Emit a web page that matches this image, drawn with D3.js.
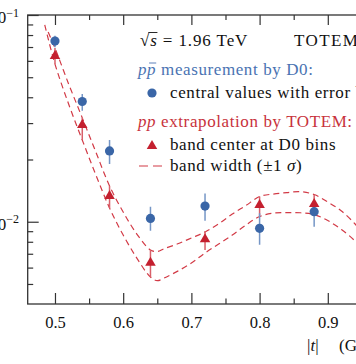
<!DOCTYPE html>
<html><head><meta charset="utf-8">
<script src="https://cdn.jsdelivr.net/npm/d3@7"></script>
<style>body{margin:0;background:#fff}svg{display:block}</style>
</head><body>
<svg id="c" width="356" height="364"></svg>
<script>
// ---- data ----
const binT = [0.50, 0.54, 0.58, 0.64, 0.72, 0.80, 0.88];
const d0Value = [0.0748, 0.03815, 0.0220, 0.01038, 0.01191, 0.00929, 0.01118];
const d0Hi    = [0.0794, 0.0415, 0.02484, 0.01182, 0.0137, 0.01098, 0.01273];
const d0Lo    = [0.0698, 0.0344, 0.01901, 0.00905, 0.01011, 0.00774, 0.00946];
const totemValue = [0.0633, 0.02936, 0.01331, 0.00633, 0.00822, 0.01205, 0.01218];
const totemHi    = [0.0692, 0.0318, 0.0149, 0.0073, 0.0090, 0.01324, 0.01354];
const totemLo    = [0.0579, 0.02485, 0.01165, 0.0054, 0.0073, 0.0106, 0.01083];
const bandUpperT = [0.49, 0.50, 0.52, 0.54, 0.56, 0.58, 0.60, 0.62, 0.64, 0.65, 0.66, 0.68, 0.70, 0.72, 0.74, 0.76, 0.78, 0.80, 0.82, 0.84, 0.86, 0.88, 0.90, 0.92, 0.94, 0.95];
const bandUpper  = [0.0828, 0.0692, 0.0464, 0.0318, 0.0217, 0.0149, 0.01114, 0.00872, 0.0073, 0.00718, 0.00741, 0.00782, 0.00834, 0.00892, 0.00977, 0.01089, 0.01198, 0.01324, 0.01361, 0.01384, 0.01397, 0.01354, 0.01245, 0.01127, 0.00975, 0.00892];
const bandLowerT = [0.485, 0.50, 0.52, 0.54, 0.56, 0.58, 0.60, 0.62, 0.64, 0.65, 0.66, 0.68, 0.70, 0.72, 0.74, 0.76, 0.78, 0.80, 0.82, 0.84, 0.86, 0.88, 0.90, 0.92, 0.94, 0.95];
const bandLower  = [0.0895, 0.0579, 0.0371, 0.02485, 0.01682, 0.01165, 0.00862, 0.00667, 0.0054, 0.00519, 0.00534, 0.00577, 0.00631, 0.00706, 0.0078, 0.00862, 0.00964, 0.0106, 0.01101, 0.01107, 0.01105, 0.01083, 0.01013, 0.00917, 0.00806, 0.0073];
const xTicks = [0.5, 0.6, 0.7, 0.8, 0.9];
const xTickLabels = ["0.5", "0.6", "0.7", "0.8", "0.9"];
const xMinorTicks = [0.55, 0.65, 0.75, 0.85, 0.95];
const yTicks = [0.1, 0.01];
const yTickExp = ["\u22121", "\u22122"];
const yMinorTicks = [0.09, 0.08, 0.07, 0.06, 0.05, 0.04, 0.03, 0.02, 0.009, 0.008, 0.007, 0.006, 0.005];

// ---- styles ----
const BLUE = "#3a66a7", BLUE_ERR = "#7596c6", RED = "#c4202f", RED_ERR = "#d8606a", RED_LINE = "#d23a46";
const AX = "#333", SERIF = "'Liberation Serif', 'Times New Roman', serif";

const svg = d3.select("#c");
const x = d3.scaleLinear().domain([0.46, 1.0]).range([27.7, 396]);
const y = d3.scaleLog().domain([0.004, 0.1]).range([304, 15]);
const L = x(0.46), T = y(0.1), B = y(0.004), R = x(1.0);

svg.append("defs").append("clipPath").attr("id", "clip")
  .append("rect").attr("x", L).attr("y", T).attr("width", R - L).attr("height", B - T);

// frame
svg.append("rect").attr("x", L).attr("y", T).attr("width", R - L).attr("height", B - T)
  .attr("fill", "none").attr("stroke", AX).attr("stroke-width", 1.3);

function styleAxis(g) {
  g.select(".domain").remove();
  g.selectAll("line").attr("stroke", AX).attr("stroke-width", 1.2);
  g.attr("font-family", SERIF).attr("font-size", 16.5);
  g.selectAll("text").attr("fill", "#111");
}
// bottom
svg.append("g").attr("transform", `translate(0,${B})`)
  .call(d3.axisBottom(x).tickValues(xTicks).tickSizeInner(-11).tickSizeOuter(0).tickPadding(12.5)
    .tickFormat((d, i) => xTickLabels[i])).call(styleAxis);
svg.append("g").attr("transform", `translate(0,${B})`)
  .call(d3.axisBottom(x).tickValues(xMinorTicks).tickSizeInner(-5.5).tickSizeOuter(0).tickFormat("")).call(styleAxis);
// top
svg.append("g").attr("transform", `translate(0,${T})`)
  .call(d3.axisTop(x).tickValues(xTicks).tickSizeInner(-10).tickSizeOuter(0).tickFormat("")).call(styleAxis);
svg.append("g").attr("transform", `translate(0,${T})`)
  .call(d3.axisTop(x).tickValues(xMinorTicks).tickSizeInner(-5).tickSizeOuter(0).tickFormat("")).call(styleAxis);
// left
svg.append("g").attr("transform", `translate(${L},0)`)
  .call(d3.axisLeft(y).tickValues(yTicks).tickSizeInner(-11).tickSizeOuter(0).tickFormat("")).call(styleAxis);
svg.append("g").attr("transform", `translate(${L},0)`)
  .call(d3.axisLeft(y).tickValues(yMinorTicks).tickSizeInner(-5.5).tickSizeOuter(0).tickFormat("")).call(styleAxis);

// y tick labels 10^n
yTicks.forEach((v, i) => {
  const t = svg.append("text").attr("x", 19).attr("y", y(v) + 8).attr("text-anchor", "end")
    .attr("font-family", SERIF).attr("font-size", 17).attr("fill", "#111");
  t.append("tspan").text("10");
  t.append("tspan").attr("dy", -6.5).attr("font-size", 12).text(yTickExp[i]);
});

// axis title
const xt = svg.append("text").attr("x", 307).attr("y", 351).attr("font-family", SERIF).attr("font-size", 17).attr("fill", "#111");
xt.append("tspan").text("|");
xt.append("tspan").attr("font-style", "italic").text("t");
xt.append("tspan").text("|");
xt.append("tspan").attr("x", 339).text("(GeV");
xt.append("tspan").attr("dy", -7).attr("font-size", 12).text("2");
xt.append("tspan").attr("dy", 7).text(")");

// band lines
const plot = svg.append("g").attr("clip-path", "url(#clip)");
const line = d3.line().x(d => x(d[0])).y(d => y(d[1])).curve(d3.curveCatmullRom.alpha(0.5));
[[bandUpperT, bandUpper], [bandLowerT, bandLower]].forEach(([ts, vs]) => {
  plot.append("path").datum(d3.zip(ts, vs)).attr("d", line).attr("fill", "none")
    .attr("stroke", RED_LINE).attr("stroke-width", 1.2).attr("stroke-dasharray", "6,4");
});

// error bars
plot.selectAll(".terr").data(binT).join("line")
  .attr("x1", d => x(d)).attr("x2", d => x(d))
  .attr("y1", (d, i) => y(totemHi[i])).attr("y2", (d, i) => y(totemLo[i]))
  .attr("stroke", RED_ERR).attr("stroke-width", 1.5);
plot.selectAll(".derr").data(binT).join("line")
  .attr("x1", d => x(d)).attr("x2", d => x(d))
  .attr("y1", (d, i) => y(d0Hi[i])).attr("y2", (d, i) => y(d0Lo[i]))
  .attr("stroke", BLUE_ERR).attr("stroke-width", 1.5);

// markers
const tri = d3.symbol(d3.symbolTriangle, 48);
plot.selectAll(".tri").data(binT).join("path")
  .attr("d", tri).attr("transform", (d, i) => `translate(${x(d)},${y(totemValue[i])})`)
  .attr("fill", RED);
plot.selectAll(".dot").data(binT).join("circle")
  .attr("cx", d => x(d)).attr("cy", (d, i) => y(d0Value[i])).attr("r", 4.6)
  .attr("fill", BLUE);

// legend
function txt(xp, yp, color) {
  return svg.append("text").attr("x", xp).attr("y", yp).attr("font-family", SERIF)
    .attr("font-size", 17).attr("fill", color).attr("letter-spacing", 0.6);
}
const s1 = txt(140, 46, "#111");
s1.append("tspan").text("\u221A");
s1.append("tspan").attr("font-style", "italic").text("s");
s1.append("tspan").text(" = 1.96 TeV");
s1.attr("textLength", 108).attr("lengthAdjust", "spacing");
{
  const e = s1.node().getExtentOfChar(1);
  const e0 = s1.node().getExtentOfChar(0);
  svg.append("line").attr("x1", e0.x + e0.width - 1.5).attr("x2", e.x + e.width)
    .attr("y1", e0.y + 1.5).attr("y2", e0.y + 1.5).attr("stroke", "#111").attr("stroke-width", 0.9);
}
txt(294, 46, "#111").attr("letter-spacing", 1.4).text("TOTEM");

const h1 = txt(138, 74.5, "#4a73b2");
h1.append("tspan").attr("font-style", "italic").text("pp");
h1.append("tspan").text(" measurement by D0:");
{
  const e = h1.node().getExtentOfChar(1);
  svg.append("line").attr("x1", e.x + 2).attr("x2", e.x + e.width)
    .attr("y1", e.y + 3.5).attr("y2", e.y + 3.5).attr("stroke", "#4a73b2").attr("stroke-width", 0.9);
}
svg.append("circle").attr("cx", 152).attr("cy", 93).attr("r", 4.6).attr("fill", BLUE);
txt(170, 97.5, "#111").text("central values with error bars");

const h2 = txt(138, 127, "#c8323c");
h2.append("tspan").attr("font-style", "italic").text("pp");
h2.append("tspan").text(" extrapolation by TOTEM:");
svg.append("path").attr("d", tri).attr("transform", "translate(152,146)").attr("fill", RED);
txt(170, 150, "#111").text("band center at D0 bins");
svg.append("line").attr("x1", 139).attr("x2", 165).attr("y1", 166).attr("y2", 166)
  .attr("stroke", RED_LINE).attr("stroke-width", 1.2).attr("stroke-dasharray", "9,5");
const l3 = txt(170, 170.5, "#111");
l3.append("tspan").text("band width (\u00B11 ");
l3.append("tspan").attr("font-style", "italic").text("\u03C3");
l3.append("tspan").text(")");
</script>
</body></html>
